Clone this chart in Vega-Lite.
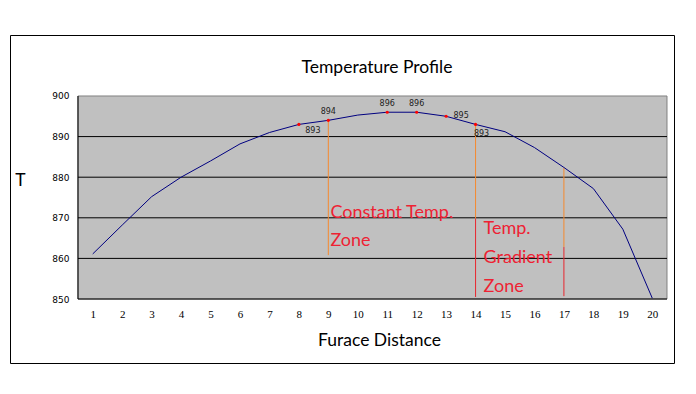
{
  "$schema": "https://vega.github.io/schema/vega-lite/v6.json",
  "width": 664,
  "height": 328,
  "autosize": {"type": "none"},
  "padding": {"left": 10, "top": 35, "right": 22, "bottom": 31},
  "background": "white",
  "config": {
    "view": {"stroke": "black", "strokeWidth": 1, "fill": "white"},
    "font": "Lato"
  },
  "title": {
    "text": "Temperature Profile",
    "font": "Lato",
    "fontSize": 17.5,
    "fontWeight": "normal",
    "color": "#000000",
    "anchor": "middle",
    "dx": 35,
    "dy": 45
  },
  "datasets": {
    "profile": [
      {"d": 1, "t": 861.1},
      {"d": 2, "t": 868.2},
      {"d": 3, "t": 875.2},
      {"d": 4, "t": 880.0},
      {"d": 5, "t": 884.0},
      {"d": 6, "t": 888.2},
      {"d": 7, "t": 891.0},
      {"d": 8, "t": 893},
      {"d": 9, "t": 894},
      {"d": 10, "t": 895.3},
      {"d": 11, "t": 896},
      {"d": 12, "t": 896},
      {"d": 13, "t": 895},
      {"d": 14, "t": 893},
      {"d": 15, "t": 891.2},
      {"d": 16, "t": 887.3},
      {"d": 17, "t": 882.4},
      {"d": 18, "t": 877.2},
      {"d": 19, "t": 867.2},
      {"d": 20, "t": 850.2}
    ],
    "grid": [
      {"t": 850}, {"t": 860}, {"t": 870}, {"t": 880}, {"t": 890}
    ],
    "zones": [
      {"d": 9, "top": 894, "bottom": 860.8, "segment": "upper"},
      {"d": 14, "top": 892.9, "bottom": 869.8, "segment": "upper"},
      {"d": 14, "top": 869.8, "bottom": 850.5, "segment": "lower"},
      {"d": 17, "top": 882.3, "bottom": 862.8, "segment": "upper"},
      {"d": 17, "top": 862.8, "bottom": 850.7, "segment": "lower"}
    ],
    "notes": [
      {"label": "Constant Temp.", "d": 9.07, "t": 871.2},
      {"label": "Zone", "d": 9.07, "t": 864.3},
      {"label": "Temp.", "d": 14.27, "t": 867.2},
      {"label": "Gradient", "d": 14.27, "t": 860.1},
      {"label": "Zone", "d": 14.27, "t": 853.0}
    ]
  },
  "layer": [
    {
      "data": {"values": [{}]},
      "mark": {"type": "rect", "fill": "#c0c0c0", "stroke": "#808080", "strokeWidth": 1},
      "encoding": {
        "x": {
          "datum": 0.5,
          "type": "quantitative",
          "scale": {"domain": [-1.809, 20.738], "nice": false, "zero": false},
          "axis": {
            "values": [1,2,3,4,5,6,7,8,9,10,11,12,13,14,15,16,17,18,19,20],
            "tickCount": 40,
            "format": "d",
            "orient": "bottom",
            "offset": -64,
            "domain": false,
            "ticks": false,
            "grid": false,
            "labelOverlap": false,
            "labelFont": "Liberation Serif",
            "labelFontSize": 11,
            "labelColor": "#000000",
            "labelPadding": 9,
            "title": "Furace Distance",
            "titleFont": "Lato",
            "titleFontSize": 17.5,
            "titleFontWeight": "normal",
            "titleColor": "#000000",
            "titlePadding": 12,
            "titleX": 369
          }
        },
        "x2": {"datum": 20.5},
        "y": {
          "datum": 850,
          "type": "quantitative",
          "scale": {"domain": [834.24, 915.02], "nice": false, "zero": false},
          "axis": {
            "values": [850, 860, 870, 880, 890, 900],
            "tickCount": 20,
            "format": "d",
            "orient": "left",
            "offset": -68,
            "domain": false,
            "ticks": false,
            "grid": false,
            "labelFont": "DejaVu Sans",
            "labelFontSize": 9,
            "labelColor": "#000000",
            "labelPadding": 9,
            "title": "T",
            "titleAngle": 0,
            "titleFont": "Lato",
            "titleFontSize": 17.5,
            "titleFontWeight": "normal",
            "titleColor": "#000000",
            "titleX": -58,
            "titleY": 145,
            "titleAlign": "center",
            "titleBaseline": "middle"
          }
        },
        "y2": {"datum": 900}
      }
    },
    {
      "data": {"name": "grid"},
      "mark": {"type": "rule", "color": "#000000", "strokeWidth": 1},
      "encoding": {
        "x": {"datum": 0.5, "type": "quantitative"},
        "x2": {"datum": 20.5},
        "y": {"field": "t", "type": "quantitative"}
      }
    },
    {
      "data": {"values": [{}]},
      "mark": {"type": "rule", "color": "#000000", "strokeWidth": 1},
      "encoding": {
        "x": {"datum": 0.5, "type": "quantitative"},
        "y": {"datum": 850, "type": "quantitative"},
        "y2": {"datum": 900}
      }
    },
    {
      "data": {"name": "zones"},
      "mark": {"type": "rule", "strokeWidth": 1},
      "encoding": {
        "x": {"field": "d", "type": "quantitative"},
        "y": {"field": "top", "type": "quantitative"},
        "y2": {"field": "bottom"},
        "color": {
          "field": "segment",
          "type": "nominal",
          "scale": {"domain": ["upper", "lower"], "range": ["#f5892e", "#e8262e"]},
          "legend": null
        }
      }
    },
    {
      "data": {"name": "profile"},
      "mark": {"type": "line", "color": "#000080", "strokeWidth": 1},
      "encoding": {
        "x": {"field": "d", "type": "quantitative"},
        "y": {"field": "t", "type": "quantitative"}
      }
    },
    {
      "data": {"name": "profile"},
      "transform": [{"filter": {"field": "d", "oneOf": [8, 9, 11, 12, 13, 14]}}],
      "mark": {"type": "point", "filled": true, "color": "#ff0000", "size": 10, "opacity": 1},
      "encoding": {
        "x": {"field": "d", "type": "quantitative"},
        "y": {"field": "t", "type": "quantitative"}
      }
    },
    {
      "data": {"name": "profile"},
      "transform": [{"filter": {"field": "d", "oneOf": [9, 11, 12]}}],
      "mark": {"type": "text", "font": "DejaVu Sans", "fontSize": 8, "color": "#222222", "dy": -8},
      "encoding": {
        "x": {"field": "d", "type": "quantitative"},
        "y": {"field": "t", "type": "quantitative"},
        "text": {"field": "t", "type": "quantitative", "format": ".0f"}
      }
    },
    {
      "data": {"name": "profile"},
      "transform": [{"filter": {"field": "d", "oneOf": [8]}}],
      "mark": {"type": "text", "font": "DejaVu Sans", "fontSize": 8, "color": "#222222", "dx": 14, "dy": 7},
      "encoding": {
        "x": {"field": "d", "type": "quantitative"},
        "y": {"field": "t", "type": "quantitative"},
        "text": {"field": "t", "type": "quantitative", "format": ".0f"}
      }
    },
    {
      "data": {"name": "profile"},
      "transform": [{"filter": {"field": "d", "oneOf": [13]}}],
      "mark": {"type": "text", "font": "DejaVu Sans", "fontSize": 8, "color": "#222222", "dx": 15, "dy": 0},
      "encoding": {
        "x": {"field": "d", "type": "quantitative"},
        "y": {"field": "t", "type": "quantitative"},
        "text": {"field": "t", "type": "quantitative", "format": ".0f"}
      }
    },
    {
      "data": {"name": "profile"},
      "transform": [{"filter": {"field": "d", "oneOf": [14]}}],
      "mark": {"type": "text", "font": "DejaVu Sans", "fontSize": 8, "color": "#222222", "dx": 6, "dy": 10},
      "encoding": {
        "x": {"field": "d", "type": "quantitative"},
        "y": {"field": "t", "type": "quantitative"},
        "text": {"field": "t", "type": "quantitative", "format": ".0f"}
      }
    },
    {
      "data": {"name": "notes"},
      "mark": {"type": "text", "font": "Lato", "fontSize": 18, "color": "#ee2233", "align": "left", "baseline": "middle"},
      "encoding": {
        "x": {"field": "d", "type": "quantitative"},
        "y": {"field": "t", "type": "quantitative"},
        "text": {"field": "label", "type": "nominal"}
      }
    }
  ]
}
